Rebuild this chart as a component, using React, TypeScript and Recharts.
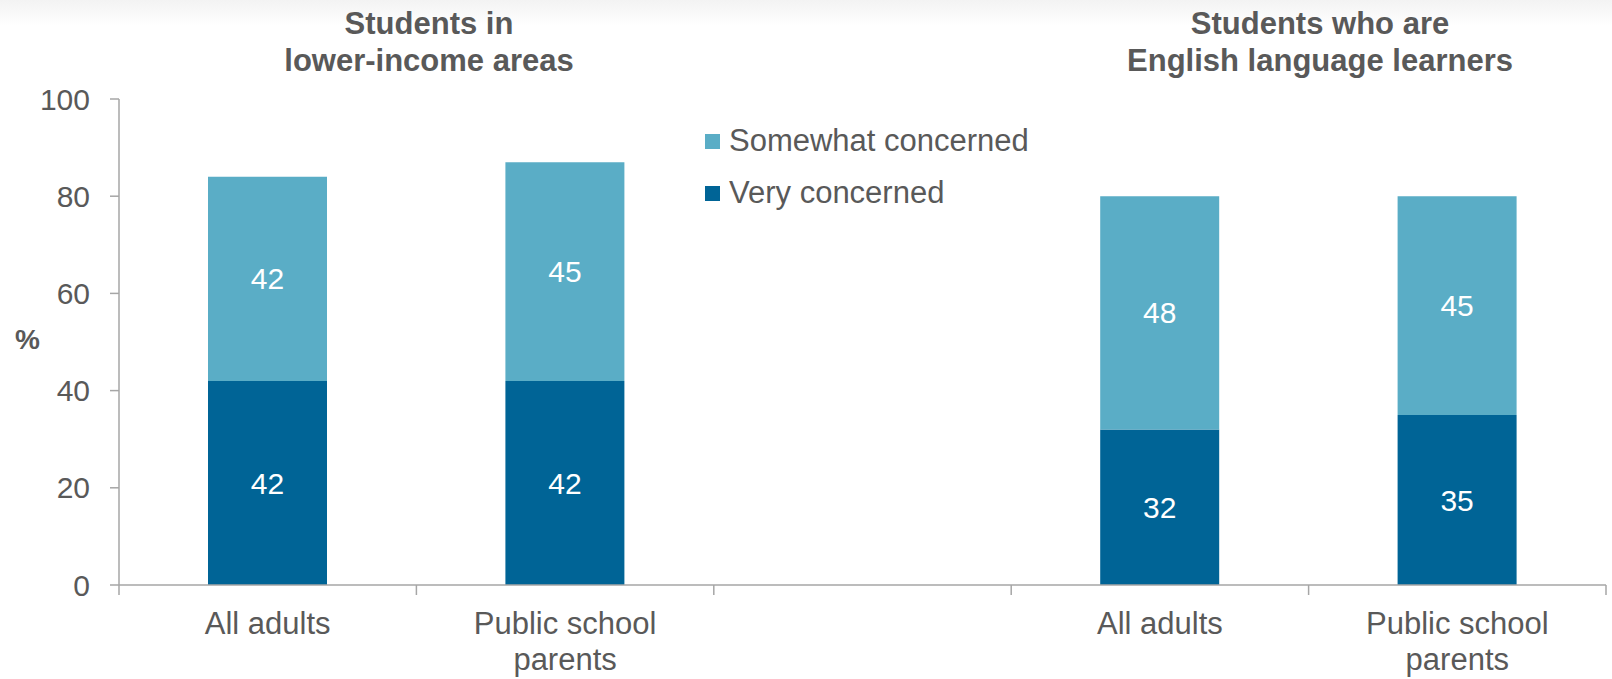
import React from 'react';
import { BarChart, Bar, XAxis, YAxis, Legend, LabelList } from 'recharts';

// chart values
const categories = ['All adults', 'Public school\nparents', '', 'All adults', 'Public school\nparents'];
const veryConcerned = [42, 42, null, 32, 35];
const somewhatConcerned = [42, 45, null, 48, 45];
const yTicks = [0, 20, 40, 60, 80, 100];
const legendOrder = ['somewhat', 'very'];
const groupTitles = [
  ['Students in', 'lower-income areas'],
  ['Students who are', 'English language learners'],
];

const data = categories.map((name, i) => ({
  name,
  very: veryConcerned[i],
  somewhat: somewhatConcerned[i],
}));

const DARK = '#006496';
const LIGHT = '#5AADC6';
const TEXT = '#595959';
const AXIS = '#A6A6A6';
const FONT = '"Liberation Sans", Arial, sans-serif';

const CategoryTick = (props: any) => {
  const { x, y, payload, index } = props;
  const half = payload && payload.offset ? payload.offset : 0;
  const lines = String(payload.value).split('\n');
  const last = index === categories.length - 1;
  return (
    <g>
      <line x1={x - half} x2={x - half} y1={y} y2={y + 10} stroke={AXIS} strokeWidth={1.5} />
      {last && <line x1={x + half} x2={x + half} y1={y} y2={y + 10} stroke={AXIS} strokeWidth={1.5} />}
      <text textAnchor="middle" fill={TEXT} fontSize={31} fontFamily={FONT}>
        {lines.map((l, i) => (
          <tspan key={i} x={x} y={y + 49 + i * 36}>{l}</tspan>
        ))}
      </text>
    </g>
  );
};

const renderLegend = (props: any) => {
  // top of stack first, like the reference
  const items = [...(props.payload || [])].sort(
    (a: any, b: any) => legendOrder.indexOf(a.dataKey) - legendOrder.indexOf(b.dataKey)
  );
  return (
    <div style={{ fontFamily: FONT, fontSize: 31, color: TEXT }}>
      {items.map((it: any) => (
        <div key={it.value} style={{ display: 'flex', alignItems: 'center', height: 52 }}>
          <span style={{ width: 15, height: 15, background: it.color, marginRight: 9, display: 'inline-block' }} />
          <span>{it.value}</span>
        </div>
      ))}
    </div>
  );
};

const titleStyle: React.CSSProperties = {
  position: 'absolute',
  top: 5,
  transform: 'translateX(-50%)',
  textAlign: 'center',
  fontFamily: FONT,
  fontWeight: 'bold',
  fontSize: 31,
  lineHeight: '37px',
  color: TEXT,
  whiteSpace: 'nowrap',
};

export default function App() {
  return (
    <div style={{ position: 'relative', width: 1612, height: 679, background: 'linear-gradient(#f3f3f3 0px, #ffffff 26px)' }}>
      <style>{'body{margin:0}'}</style>
      <BarChart
        width={1612}
        height={679}
        data={data}
        margin={{ top: 99, right: 6, left: 0, bottom: 0 }}
        barSize={119}
      >
        <XAxis
          dataKey="name"
          height={94}
          interval={0}
          tickSize={0}
          tickMargin={0}
          tickLine={false}
          axisLine={{ stroke: AXIS, strokeWidth: 1.5 }}
          tick={<CategoryTick />}
        />
        <YAxis
          width={119}
          domain={[0, 100]}
          ticks={yTicks}
          interval={0}
          tickSize={9}
          tickMargin={20}
          axisLine={{ stroke: AXIS, strokeWidth: 1.5 }}
          tickLine={{ stroke: AXIS, strokeWidth: 1.5 }}
          tick={{ fill: TEXT, fontSize: 30, fontFamily: FONT }}
          label={{ value: '%', position: 'insideLeft', offset: 15, dy: -3, fill: TEXT, fontSize: 28, fontWeight: 'bold', fontFamily: FONT }}
        />
        <Legend
          layout="horizontal"
          verticalAlign="middle"
          align="center"
          content={renderLegend}
          wrapperStyle={{ position: 'absolute', left: 705, top: 115, width: 'auto', height: 'auto' }}
        />
        <Bar dataKey="very" name="Very concerned" stackId="a" fill={DARK} isAnimationActive={false}>
          <LabelList dataKey="very" position="center" fill="#ffffff" fontSize={30} fontFamily={FONT} />
        </Bar>
        <Bar dataKey="somewhat" name="Somewhat concerned" stackId="a" fill={LIGHT} isAnimationActive={false}>
          <LabelList dataKey="somewhat" position="center" fill="#ffffff" fontSize={30} fontFamily={FONT} />
        </Bar>
      </BarChart>
      <div style={{ ...titleStyle, left: 429 }}>
        {groupTitles[0].map((t) => <div key={t}>{t}</div>)}
      </div>
      <div style={{ ...titleStyle, left: 1320 }}>
        {groupTitles[1].map((t) => <div key={t}>{t}</div>)}
      </div>
    </div>
  );
}
